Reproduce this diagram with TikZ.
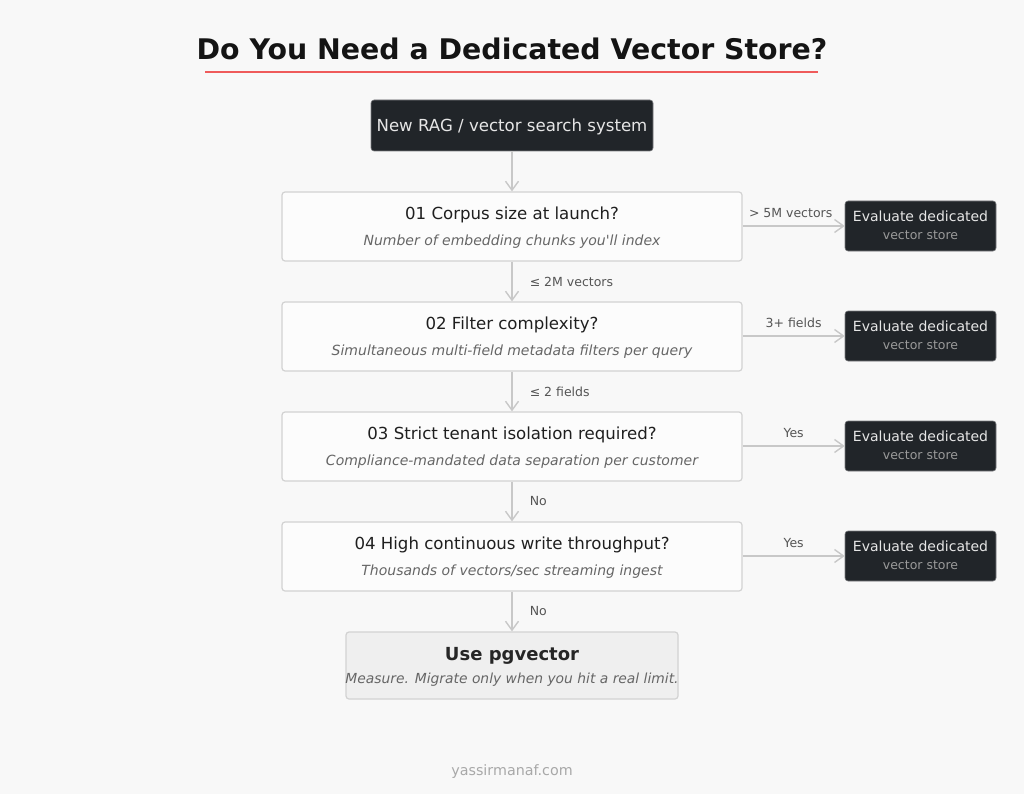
\documentclass[tikz,border=0pt]{standalone}
\usepackage{fontspec}
\setmainfont{DejaVu Sans}
\usetikzlibrary{arrows.meta}
\definecolor{bg}{HTML}{F8F8F8}
\definecolor{darkbox}{HTML}{212529}
\definecolor{boxline}{HTML}{D2D2D2}
\definecolor{arr}{HTML}{C8C8C8}
\definecolor{subgray}{HTML}{666666}
\definecolor{lblgray}{HTML}{555555}
\definecolor{titlered}{HTML}{EF5B5B}
\definecolor{lighttxt}{HTML}{E6E6E6}
\definecolor{storetxt}{HTML}{9A9A9A}
\definecolor{finalfill}{HTML}{EFEFEF}
\definecolor{foot}{HTML}{A8A8A8}
\tikzset{
  qbox/.style={draw=boxline, line width=1.2pt, fill=white!60!bg, rounded corners=3pt, minimum width=460pt, minimum height=69pt, inner sep=0pt},
  dbox/.style={fill=darkbox, draw=darkbox!60!white, line width=0.6pt, rounded corners=3pt, minimum width=151pt, minimum height=50pt, inner sep=0pt},
  qtitle/.style={font=\fontsize{16.6}{18}\selectfont, text=black!88, inner sep=0pt},
  qsub/.style={font=\fontsize{14}{15}\selectfont\itshape, text=subgray, inner sep=0pt},
  lbl/.style={font=\fontsize{12.5}{14}\selectfont, text=lblgray, inner sep=0pt},
  conn/.style={draw=arr, line width=1.6pt, -{Straight Barb[length=9pt,width=13pt,line width=1.4pt]}},
}
\begin{document}
\begin{tikzpicture}[x=1pt,y=-1pt]
\useasboundingbox[fill=bg] (0,0) rectangle (1024,794);
% title
\node[font=\fontsize{28.4}{30}\selectfont\bfseries, text=black!92, inner sep=0pt] (title) at (512,49) {Do You Need a Dedicated Vector Store?};
\coordinate (ul1) at (205,72);
\coordinate (ul2) at (818,72);
\draw[titlered, line width=2.6pt] (ul1) -- (ul2);
% start
\node[fill=darkbox, draw=darkbox!60!white, line width=0.6pt, rounded corners=3pt, minimum width=282pt, minimum height=51pt, inner sep=0pt] (start) at (512,125.5) {};
\node[font=\fontsize{16.6}{18}\selectfont, text=lighttxt, inner sep=0pt] (startt) at (512,126.5) {New RAG / vector search system};
% question boxes
\node[qbox] (q1) at (512,226.5) {};
\node[qbox] (q2) at (512,336.5) {};
\node[qbox] (q3) at (512,446.5) {};
\node[qbox] (q4) at (512,556.5) {};
\node[qtitle] (q1t) at (512,215) {01 Corpus size at launch?};
\node[qsub] (q1s) at (512,242) {Number of embedding chunks you\textquotesingle ll index};
\node[qtitle] (q2t) at (512,325) {02 Filter complexity?};
\node[qsub] (q2s) at (512,352) {Simultaneous multi-field metadata filters per query};
\node[qtitle] (q3t) at (512,435) {03 Strict tenant isolation required?};
\node[qsub] (q3s) at (512,462) {Compliance-mandated data separation per customer};
\node[qtitle] (q4t) at (512,545) {04 High continuous write throughput?};
\node[qsub] (q4s) at (512,572) {Thousands of vectors/sec streaming ingest};
% dedicated boxes
\foreach \i/\y in {1/226, 2/336, 3/446, 4/556}{
  \node[dbox] (d\i) at (920.5,\y) {};
  \node[font=\fontsize{14}{16}\selectfont, text=lighttxt, inner sep=0pt] (d\i a) at (920.5,\y-10) {Evaluate dedicated};
  \node[font=\fontsize{12.5}{14}\selectfont, text=storetxt, inner sep=0pt] (d\i b) at (920.5,\y+9) {vector store};
}
% final
\node[fill=finalfill, draw=boxline, line width=1.2pt, rounded corners=3pt, minimum width=332pt, minimum height=67pt, inner sep=0pt] (final) at (512,665.5) {};
\node[font=\fontsize{18}{20}\selectfont\bfseries, text=black!85, inner sep=0pt] (finalt) at (512,656) {Use pgvector};
\node[font=\fontsize{13.85}{16}\selectfont\itshape, text=subgray, inner sep=0pt] (finals) at (512,680) {Measure. Migrate only when you hit a real limit.};
% footer
\node[font=\fontsize{14.3}{16}\selectfont, text=foot, inner sep=0pt] (footer) at (512,772) {yassirmanaf.com};
% vertical connectors
\draw[conn] (start.south) -- (q1.north);
\draw[conn] (q1.south) -- (q2.north) node[lbl, midway, anchor=west, xshift=17pt] (l12) {≤ 2M vectors};
\draw[conn] (q2.south) -- (q3.north) node[lbl, midway, anchor=west, xshift=17pt] (l23) {≤ 2 fields};
\draw[conn] (q3.south) -- (q4.north) node[lbl, midway, anchor=west, xshift=17pt] (l34) {No};
\draw[conn] (q4.south) -- (final.north) node[lbl, midway, anchor=west, xshift=17pt] (l4f) {No};
% horizontal connectors
\draw[conn] (q1.east |- d1) -- (d1.west) node[lbl, midway, yshift=13pt, xshift=-3pt] (h1) {> 5M vectors};
\draw[conn] (q2.east |- d2) -- (d2.west) node[lbl, midway, yshift=13pt] (h2) {3+ fields};
\draw[conn] (q3.east |- d3) -- (d3.west) node[lbl, midway, yshift=13pt] (h3) {Yes};
\draw[conn] (q4.east |- d4) -- (d4.west) node[lbl, midway, yshift=13pt] (h4) {Yes};
\end{tikzpicture}
\end{document}
